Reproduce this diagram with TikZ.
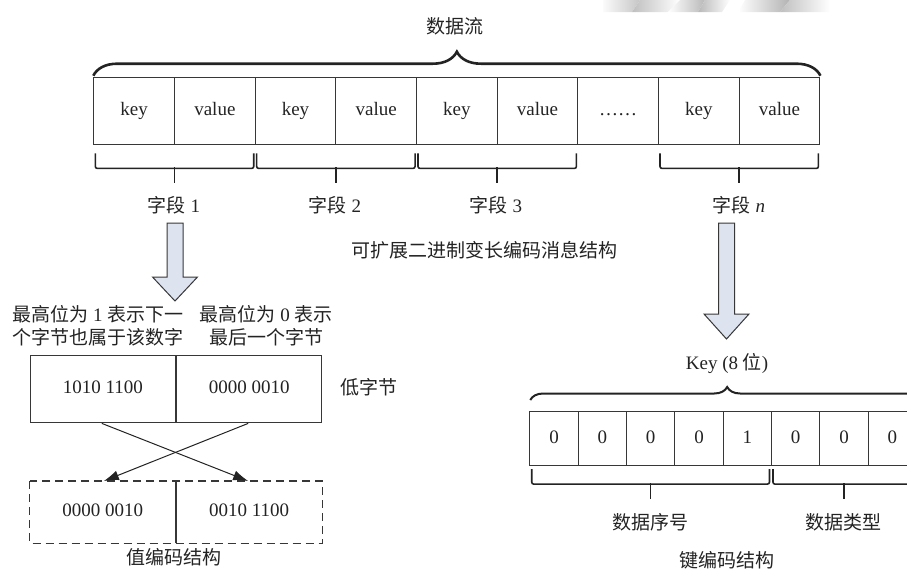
\documentclass[tikz,border=0pt]{standalone}
\usepackage{fontspec}
\setmainfont{Liberation Serif}
\newfontfamily\cjk{Noto Sans CJK SC}
\usetikzlibrary{decorations.pathreplacing,arrows.meta,calc}

\definecolor{ink}{RGB}{35,35,35}
\definecolor{linegray}{RGB}{55,55,55}
\definecolor{arrowfill}{RGB}{221,228,240}

\newcommand\zh[1]{{\cjk #1}}

% square-cornered brace under a group of cells: ends at #1 and #2
\newcommand\lowbrace[2]{%
  \draw[lbrace] #1 -- ($#1+(0,15)$) -- ($#2+(0,15)$) -- #2;
  \draw[lbrace] ($#1!0.5!#2+(0,14)$) -- ++(0,16);
}
% hollow block arrow pointing down from #1: shaft length #2, head length #3
\newcommand\downblock[3]{%
  \draw[blockarrow] (#1) ++(-8,0) -- ++(16,0) -- ++(0,#2) -- ++(14.5,0)
    -- ++(-22.5,#3) -- ++(-22.5,-#3) -- ++(14.5,0) -- cycle;
}

\tikzset{
  txt/.style={text=ink, font=\fontsize{19}{23}\selectfont, inner sep=0pt},
  cell/.style={draw=linegray, line width=1.1pt, text=ink,
    font=\fontsize{19}{23}\selectfont, inner sep=0pt, anchor=north west,
    text height=13pt, text depth=4pt},
  lbrace/.style={draw=ink, line width=1.6pt, rounded corners=2pt},
  topbrace/.style={draw=ink, line width=2.6pt,
    decorate, decoration={brace, amplitude=#1}},
  blockarrow/.style={draw=linegray, line width=1pt, fill=arrowfill,
    line join=miter},
  cross/.style={draw=ink, line width=1pt,
    -{Latex[length=15pt,width=10pt]}},
}

\begin{document}
\begin{tikzpicture}[x=1pt, y=-1pt]
\useasboundingbox (0,0) rectangle (907,570);
\clip (0,0) rectangle (907,570);

% faint photographic scrap along the top edge
\begin{scope}
  \clip (603,0) rectangle (830,12);
  \shade[left color=white, right color=gray!45] (600,0) -- (640,0) -- (632,12) -- (600,12) -- cycle;
  \shade[left color=gray!50, right color=white] (640,0) -- (680,0) -- (668,12) -- (632,12) -- cycle;
  \shade[left color=white, right color=gray!55] (680,0) -- (705,0) -- (698,12) -- (668,12) -- cycle;
  \shade[left color=gray!55, right color=white] (705,0) -- (730,0) -- (722,12) -- (698,12) -- cycle;
  \shade[left color=white, right color=gray!60] (745,0) -- (790,0) -- (780,12) -- (738,12) -- cycle;
  \shade[left color=gray!50, right color=white] (790,0) -- (830,0) -- (830,12) -- (780,12) -- cycle;
\end{scope}

% ---------- data stream ----------
\foreach \t [count=\i] in {key,value,key,value,key,value,{……},key,value}
  \node[cell, minimum width=80.67pt, minimum height=67.6pt]
    (c\i) at ({93.3+(\i-1)*80.67},76.7) {\t};

\draw[topbrace=24] ($(c1.north west)+(0,-1)$) -- ($(c9.north east)+(0,-1)$);
\node[txt] (stream) at (455,26) {\zh{数据流}};

\lowbrace{($(c1.south west)+(2,8)$)}{($(c2.south east)+(-2,8)$)}
\lowbrace{($(c3.south west)+(2,8)$)}{($(c4.south east)+(-2,8)$)}
\lowbrace{($(c5.south west)+(2,8)$)}{($(c6.south east)+(-2,8)$)}
\lowbrace{($(c8.south west)+(2,8)$)}{($(c9.south east)+(-2,8)$)}

\node[txt] (f1) at (174,205) {\zh{字段} 1};
\node[txt] (f2) at (335,205) {\zh{字段} 2};
\node[txt] (f3) at (496,205) {\zh{字段} 3};
\node[txt] (fn) at (739,205) {\zh{字段} \textit{n}};

\node[txt] (title) at (484,250) {\zh{可扩展二进制变长编码消息结构}};

% ---------- value encoding ----------
\coordinate (la) at (175,223);
\downblock{la}{54}{24}

\node[txt, align=center] (n1) at (98,326)
  {\zh{最高位为} 1 \zh{表示下一}\\\zh{个字节也属于该数字}};
\node[txt, align=center] (n0) at (266,326)
  {\zh{最高位为} 0 \zh{表示}\\\zh{最后一个字节}};

\node[cell, minimum width=145.2pt, minimum height=67.3pt] (b1) at (29.7,355) {1010 1100};
\node[cell, minimum width=145.2pt, minimum height=67.3pt] (b2) at (b1.north east) {0000 0010};
\node[txt] (low) at (369,387) {\zh{低字节}};

\node[cell, draw=none, minimum width=145.2pt, minimum height=61pt] (w1) at (29.7,481) {0000 0010};
\node[cell, draw=none, minimum width=145.2pt, minimum height=61pt] (w2) at (w1.north east) {0010 1100};
\draw[draw=linegray, line width=1.1pt, dash pattern=on 8pt off 5pt]
  (w1.north west) rectangle (w2.south east);
\draw[draw=linegray, line width=1.1pt] (w1.north east) -- (w1.south east);
\node[txt] (vtitle) at (174,557) {\zh{值编码结构}};

\draw[cross] ($(b1.south)+(-1,0)$) -- ($(w2.north)+(-1,0)$);
\draw[cross] ($(b2.south)+(-1,0)$) -- ($(w1.north)+(1,0)$);

% ---------- key encoding ----------
\coordinate (ra) at (726.5,223);
\downblock{ra}{91}{25}

\node[txt] (keylabel) at (727,363) {Key (8 \zh{位})};

\foreach \t [count=\i] in {0,0,0,0,1,0,0,0}
  \node[cell, minimum width=48.33pt, minimum height=54pt]
    (k\i) at ({529.3+(\i-1)*48.33},411) {\t};

\draw[topbrace=13, line width=2pt] ($(k1.north west)+(1,-11)$) -- ($(k8.north east)+(7,-11)$);

\lowbrace{($(k1.south west)+(2.4,3)$)}{($(k5.south east)+(-2.6,3)$)}
\lowbrace{($(k6.south west)+(2,3)$)}{($(k8.south east)+(-2,3)$)}

\node[txt] (seq) at (650,522) {\zh{数据序号}};
\node[txt] (typ) at (843,522) {\zh{数据类型}};
\node[txt] (ktitle) at (727,560) {\zh{键编码结构}};
\end{tikzpicture}
\end{document}
